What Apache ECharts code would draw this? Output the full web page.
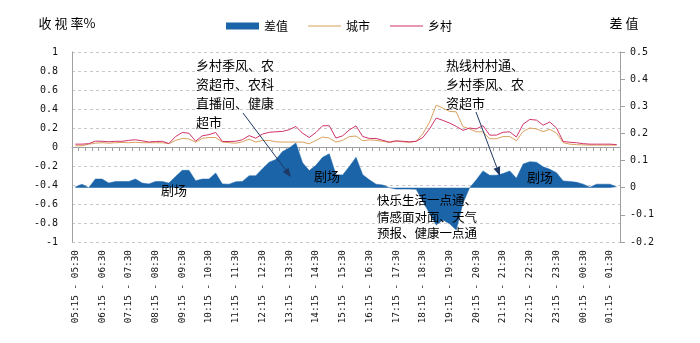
<!DOCTYPE html>
<html>
<head>
<meta charset="utf-8">
<script src="https://cdn.jsdelivr.net/npm/echarts@6/dist/echarts.min.js"></script>
<style>
html,body{margin:0;padding:0;background:#fff;}
#chart{width:700px;height:343px;}
</style>
</head>
<body>
<div id="chart"></div>
<script>
var categories = [
"05:15 - 05:30","05:30 - 05:45","05:45 - 06:00",
"06:00 - 06:15","06:15 - 06:30","06:30 - 06:45","06:45 - 07:00",
"07:00 - 07:15","07:15 - 07:30","07:30 - 07:45","07:45 - 08:00",
"08:00 - 08:15","08:15 - 08:30","08:30 - 08:45","08:45 - 09:00",
"09:00 - 09:15","09:15 - 09:30","09:30 - 09:45","09:45 - 10:00",
"10:00 - 10:15","10:15 - 10:30","10:30 - 10:45","10:45 - 11:00",
"11:00 - 11:15","11:15 - 11:30","11:30 - 11:45","11:45 - 12:00",
"12:00 - 12:15","12:15 - 12:30","12:30 - 12:45","12:45 - 13:00",
"13:00 - 13:15","13:15 - 13:30","13:30 - 13:45","13:45 - 14:00",
"14:00 - 14:15","14:15 - 14:30","14:30 - 14:45","14:45 - 15:00",
"15:00 - 15:15","15:15 - 15:30","15:30 - 15:45","15:45 - 16:00",
"16:00 - 16:15","16:15 - 16:30","16:30 - 16:45","16:45 - 17:00",
"17:00 - 17:15","17:15 - 17:30","17:30 - 17:45","17:45 - 18:00",
"18:00 - 18:15","18:15 - 18:30","18:30 - 18:45","18:45 - 19:00",
"19:00 - 19:15","19:15 - 19:30","19:30 - 19:45","19:45 - 20:00",
"20:00 - 20:15","20:15 - 20:30","20:30 - 20:45","20:45 - 21:00",
"21:00 - 21:15","21:15 - 21:30","21:30 - 21:45","21:45 - 22:00",
"22:00 - 22:15","22:15 - 22:30","22:30 - 22:45","22:45 - 23:00",
"23:00 - 23:15","23:15 - 23:30","23:30 - 23:45","23:45 - 00:00",
"00:00 - 00:15","00:15 - 00:30","00:30 - 00:45","00:45 - 01:00",
"01:00 - 01:15","01:15 - 01:30","01:30 - 01:45"
];

var diffValues = [
0.003,0.013,0.0,0.032,0.032,0.017,0.023,0.023,0.023,0.032,
0.017,0.014,0.023,0.023,0.017,0.041,0.064,0.064,0.026,0.032,
0.032,0.054,0.014,0.013,0.022,0.023,0.044,0.044,0.07,0.094,
0.104,0.133,0.146,0.165,0.092,0.063,0.083,0.112,0.125,0.048,
0.047,0.078,0.112,0.048,0.029,0.013,0.01,0.0,-0.005,-0.005,
-0.005,-0.006,-0.05,-0.095,-0.137,-0.119,-0.133,-0.156,-0.057,0.0,
0.029,0.062,0.046,0.046,0.052,0.062,0.035,0.087,0.096,0.094,
0.077,0.068,0.055,0.025,0.023,0.02,0.013,0.002,0.013,0.013,
0.013,0.003
];

var cityValues = [
0.013,0.013,0.03,0.04,0.045,0.04,0.045,0.048,0.045,0.05,
0.045,0.045,0.045,0.045,0.035,0.07,0.09,0.085,0.05,0.09,
0.1,0.1,0.052,0.045,0.04,0.055,0.083,0.052,0.069,0.069,
0.055,0.052,0.052,0.052,0.052,0.034,0.069,0.105,0.094,0.052,
0.07,0.11,0.115,0.066,0.075,0.07,0.06,0.048,0.06,0.055,
0.048,0.06,0.14,0.26,0.44,0.41,0.375,0.37,0.215,0.19,
0.16,0.16,0.087,0.087,0.11,0.11,0.066,0.164,0.2,0.19,
0.162,0.186,0.147,0.045,0.03,0.025,0.022,0.02,0.02,0.02,
0.02,0.02
];

var ruralValues = [
0.03,0.03,0.035,0.062,0.06,0.055,0.06,0.06,0.07,0.076,
0.065,0.052,0.058,0.06,0.037,0.11,0.153,0.145,0.062,0.118,
0.13,0.153,0.058,0.058,0.06,0.077,0.12,0.093,0.136,0.155,
0.16,0.164,0.182,0.217,0.145,0.1,0.153,0.224,0.224,0.094,
0.118,0.18,0.222,0.11,0.09,0.09,0.07,0.052,0.065,0.06,
0.055,0.06,0.1,0.19,0.305,0.28,0.252,0.217,0.175,0.2,
0.19,0.225,0.125,0.125,0.155,0.16,0.105,0.24,0.29,0.283,
0.23,0.263,0.2,0.058,0.05,0.045,0.035,0.03,0.03,0.03,
0.03,0.025
];

var seriesNames = ["差值","城市","乡村"];
var leftAxisName = "收 视 率%";
var rightAxisName = "差 值";

var annotationTexts = [
  "乡村季风、农\n资超市、农科\n直播间、健康\n超市",
  "热线村村通、\n乡村季风、农\n资超市",
  "快乐生活一点通、\n情感面对面、天气\n预报、健康一点通"
];
var theatreText = "剧场";

var chart = echarts.init(document.getElementById('chart'), null, {renderer:'canvas'});

var tickFont = '"DejaVu Sans Mono", monospace';
var cjkFont = '"Noto Sans CJK SC", sans-serif';
var arrowColor = '#1f3864';
var diffColor = '#1b64a8';
var cityColor = '#d9a15e';
var ruralColor = '#d1336a';
var lineIcon = 'path://M0,0H34V1H0Z';

function arrow(x1, y1, x2, y2) {
  var ang = Math.atan2(y2 - y1, x2 - x1);
  var L = 9, W = 3.5;
  var bx = x2 - L * Math.cos(ang), by = y2 - L * Math.sin(ang);
  var px = -Math.sin(ang) * W, py = Math.cos(ang) * W;
  return [
    {type:'line', z:100, shape:{x1:x1,y1:y1,x2:bx,y2:by}, style:{stroke:arrowColor, lineWidth:1}},
    {type:'polygon', z:100, shape:{points:[[x2,y2],[bx+px,by+py],[bx-px,by-py]]}, style:{fill:arrowColor}}
  ];
}

function txt(x, y, text, size, lh) {
  return {type:'text', z:100, left:x, top:y,
    style:{text:text, font: size + 'px ' + cjkFont, fill:'#000', lineHeight:lh}};
}

var graphics = []
  .concat(arrow(243,113,291,177))
  .concat(arrow(476,112,500,176))
  .concat([
    txt(196, 56, annotationTexts[0], 13, 19),
    txt(446, 56, annotationTexts[1], 13, 19),
    txt(377, 192, annotationTexts[2], 12.5, 16.5),
    txt(161, 182, theatreText, 13, 16),
    txt(314, 168, theatreText, 13, 16),
    txt(527, 169, theatreText, 13, 16)
  ]);

var option = {
  animation:false,
  backgroundColor:'#fff',
  textStyle:{fontFamily:cjkFont},
  legend:{
    left:226, top:20, padding:0,
    itemWidth:33, itemHeight:7, itemGap:20,
    textStyle:{fontSize:12, color:'#000', fontFamily:cjkFont},
    data:[
      {name:seriesNames[0], icon:'rect'},
      {name:seriesNames[1], icon:lineIcon},
      {name:seriesNames[2], icon:lineIcon}
    ]
  },
  grid:{left:72, right:80, top:52, bottom:101},
  xAxis:{
    type:'category', data:categories, boundaryGap:true,
    axisLine:{show:true, lineStyle:{color:'#a0a0a0'}},
    axisTick:{show:true, interval:0, length:4, lineStyle:{color:'#a0a0a0'}},
    axisLabel:{interval:3, rotate:90, margin:8, fontSize:9.4, fontFamily:tickFont, color:'#111'},
    splitLine:{show:false}
  },
  yAxis:[
    {
      type:'value', min:-1, max:1, interval:0.2, position:'left',
      name:leftAxisName, nameLocation:'end', nameGap:22,
      nameTextStyle:{fontSize:13, color:'#000', fontFamily:cjkFont, align:'center', padding:[0,10,0,0]},
      axisLine:{show:true, lineStyle:{color:'#a0a0a0'}},
      axisTick:{show:false},
      axisLabel:{fontSize:10, fontFamily:tickFont, color:'#111', margin:14},
      splitLine:{show:true, lineStyle:{color:'#c8c8c8', type:[3,3]}}
    },
    {
      type:'value', min:-0.2, max:0.5, interval:0.1, position:'right',
      name:rightAxisName, nameLocation:'end', nameGap:22,
      nameTextStyle:{fontSize:13, color:'#000', fontFamily:cjkFont, align:'center', padding:[0,0,0,8]},
      axisLine:{show:true, lineStyle:{color:'#a0a0a0'}},
      axisTick:{show:true, length:5, lineStyle:{color:'#a0a0a0'}},
      axisLabel:{fontSize:10, fontFamily:tickFont, color:'#111', margin:10},
      splitLine:{show:false}
    }
  ],
  series:[
    {
      name:seriesNames[0], type:'line', yAxisIndex:1, data:diffValues,
      symbol:'none', lineStyle:{width:0.5, color:diffColor},
      itemStyle:{color:diffColor},
      areaStyle:{color:diffColor, opacity:1},
      z:2
    },
    {
      name:seriesNames[1], type:'line', yAxisIndex:0, data:cityValues,
      symbol:'none', lineStyle:{width:1, color:cityColor},
      itemStyle:{color:cityColor}, z:3
    },
    {
      name:seriesNames[2], type:'line', yAxisIndex:0, data:ruralValues,
      symbol:'none', lineStyle:{width:1, color:ruralColor},
      itemStyle:{color:ruralColor}, z:4
    }
  ],
  graphic:graphics
};
chart.setOption(option);
</script>
</body>
</html>
